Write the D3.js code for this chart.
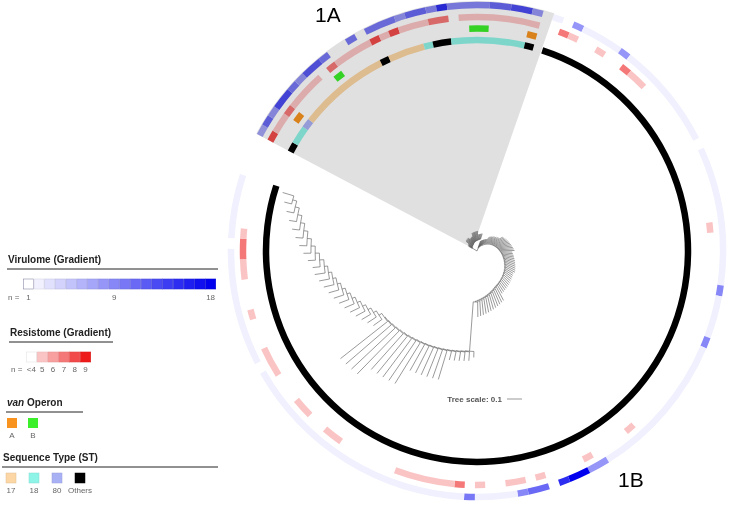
<!DOCTYPE html>
<html>
<head>
<meta charset="utf-8">
<script src="https://cdn.jsdelivr.net/npm/d3@7"></script>
<style>
  body { margin: 0; background: #fff; }
  svg { display: block; font-family: "Liberation Sans", Arial, sans-serif; }
</style>
</head>
<body>
<svg id="chart" width="729" height="507"></svg>
<script>
// leaves are numbered clockwise, leaf 0 = first leaf of clade 1A
const nLeaves = 140;
const clade1A = [0, 32];

// tree as ladders: [number of rungs, backbone step, leaf length]
const stem1A = 0.035;
const tree1A = [[5, 0.002, 0.03], [7, 0.001, 0.055], [6, 0.002, 0.04], [8, 0.0015, 0.06], [6, 0.002, 0.035]];
const stem1B = 0.02;
const tree1B = [
  [9, 0.004, 0.05], [8, 0.006, 0.07],
  [12, 0.005, 0.09], [12, 0.005, 0.07],
  [12, 0.004, 0.06], [12, 0.006, 0.1],
  [1, 0.33, 0.04],
  [5, 0.004, 0.06], [6, 0.004, 0.2], [5, 0.005, 0.32], [4, 0.005, 0.4],
  [12, 0.022, 0.07], [10, 0.028, 0.05]
];

// ring segments: [first leaf, last leaf + 1, value]
const stSegments = [
  [0, 1, 'Others'], [1, 3, '18'], [3, 4, '80'], [4, 14, '17'], [14, 15, 'Others'],
  [15, 19, '17'], [19, 20, '18'], [20, 22, 'Others'], [22, 30, '18'], [30, 31, 'Others'],
  [32, 140, 'Others']
];
const vanSegments = [[3, 4, 'A'], [9, 10, 'B'], [24, 26, 'B'], [30, 31, 'A']];
const resSegments = [
  [0, 1, 8], [1, 3, 5], [3, 4, 7], [4, 8, 5], [9, 10, 7], [10, 14, 5], [14, 15, 8],
  [15, 16, 5], [16, 17, 8], [17, 20, 5], [20, 22, 7], [23, 31, 5],
  [33, 34, 7], [34, 35, 5], [37, 38, 5], [40, 41, 7], [41, 43, 5], [58, 59, 5],
  [80, 81, 5], [85, 86, 5], [90, 91, 5], [92, 94, 5], [96, 97, 5], [98, 99, 7],
  [99, 105, 5], [111, 113, 5], [115, 117, 5], [120, 123, 5], [126, 127, 5],
  [130, 132, 5], [132, 134, 7], [134, 135, 5]
];
const virSegments = [
  [0, 1, 7], [1, 2, 11], [2, 3, 8], [3, 5, 13], [5, 6, 10], [6, 7, 8], [7, 9, 12],
  [9, 10, 10], [12, 13, 10], [14, 17, 10], [17, 18, 8], [18, 20, 11], [20, 21, 9],
  [21, 22, 15], [22, 26, 9], [26, 28, 11], [28, 30, 13], [30, 31, 8],
  [32, 33, 2], [34, 35, 8], [35, 39, 2], [39, 40, 8], [40, 50, 2], [51, 64, 2],
  [64, 65, 9], [65, 69, 2], [69, 70, 9], [70, 84, 2], [84, 86, 8], [86, 88, 18],
  [88, 89, 15], [90, 92, 11], [92, 93, 9], [93, 97, 2], [97, 98, 10], [98, 121, 2],
  [122, 133, 2], [134, 140, 2]
];

// legend keys
const virLevels = d3.range(1, 19);
const virTicks = [1, 9, 18];
const resLevels = ['<4', 5, 6, 7, 8, 9];
const resFills = ['#ffffff', '#fbc4c4', '#f8a0a0', '#f57878', '#f24a4a', '#ee1a1a'];
const vanTypes = ['A', 'B'];
const vanFills = ['#f7931e', '#3cef2b'];
const stTypes = ['17', '18', '80', 'Others'];
const stFills = ['#fcd6a4', '#8ff4e8', '#a9b1f5', '#000000'];

const cx = 477, cy = 251;
const ringR = { st: 211, van: 222.5, res: 234, vir: 246 };
const ringW = 6.5;

const svg = d3.select('#chart');
const toRad = d => d * Math.PI / 180;
const angle = d3.scaleLinear().domain([0, nLeaves]).range([toRad(298), toRad(648)]);
const rTree = d3.scaleLinear().domain([0, 0.1]).range([0, 15]);
const virColor = d3.scaleLinear().domain([1, 18]).range(['#ffffff', '#0000ee']);
const resColor = d3.scaleOrdinal().domain(resLevels).range(resFills);
const vanColor = d3.scaleOrdinal().domain(vanTypes).range(vanFills);
const stColor = d3.scaleOrdinal().domain(stTypes).range(stFills);
const pt = (r, a) => [r * Math.sin(a), -r * Math.cos(a)];

// build a ladder-shaped clade
function ladder(runs, stem) {
  const rungs = runs.flatMap(([n, step, leaf]) => d3.range(n).map(() => [step, leaf]));
  const last = rungs[rungs.length - 1];
  let node = { len: last[0] + last[1] };
  for (let k = rungs.length - 2; k >= 0; k--) {
    node = { len: k === 0 ? stem : rungs[k][0], children: [{ len: rungs[k][1] }, node] };
  }
  return node;
}

const root = d3.hierarchy({ len: 0, children: [ladder(tree1A, stem1A), ladder(tree1B, stem1B)] });
root.eachBefore(d => { d.dist = d.parent ? d.parent.dist + d.data.len : 0; });
root.leaves().forEach((d, i) => { d.a = angle(i + 0.5); });
root.eachAfter(d => {
  if (d.children) d.a = (d.children[0].a + d.children[d.children.length - 1].a) / 2;
});

const g = svg.append('g').attr('transform', `translate(${cx},${cy})`);

// highlighted clade 1A
const node1A = root.children[0];
const wedge = d3.path();
wedge.moveTo(...pt(rTree(node1A.dist), node1A.a));
wedge.lineTo(...pt(250, angle(clade1A[0])));
wedge.arc(0, 0, 250, angle(clade1A[0]) - Math.PI / 2, angle(clade1A[1]) - Math.PI / 2);
wedge.closePath();
g.append('path').attr('d', wedge.toString()).attr('fill', '#e0e0e0');

// rings
const rings = g.append('g').style('mix-blend-mode', 'multiply');
function drawRing(data, r, color) {
  const arc = d3.arc()
    .innerRadius(r - ringW / 2).outerRadius(r + ringW / 2)
    .startAngle(d => angle(d[0])).endAngle(d => angle(d[1]));
  rings.append('g').selectAll('path').data(data).join('path')
    .attr('d', arc).attr('fill', d => color(d[2]));
}
drawRing(stSegments, ringR.st, stColor);
drawRing(vanSegments, ringR.van, vanColor);
drawRing(resSegments, ringR.res, resColor);
drawRing(virSegments, ringR.vir, virColor);

// tree branches
const branches = d3.path();
root.each(d => {
  if (!d.children) return;
  const r = rTree(d.dist);
  const a0 = d.children[0].a, a1 = d.children[d.children.length - 1].a;
  branches.moveTo(...pt(r, a0));
  branches.arc(0, 0, r, a0 - Math.PI / 2, a1 - Math.PI / 2);
  d.children.forEach(c => {
    branches.moveTo(...pt(r, c.a));
    branches.lineTo(...pt(rTree(c.dist), c.a));
  });
});
g.append('path').attr('d', branches.toString())
  .attr('fill', 'none').attr('stroke', '#555').attr('stroke-width', 0.6);

// tree scale
svg.append('text').attr('x', 502).attr('y', 402).attr('text-anchor', 'end')
  .attr('font-size', 8).attr('font-weight', 'bold').attr('fill', '#555')
  .text('Tree scale: 0.1');
svg.append('line').attr('x1', 507).attr('x2', 507 + rTree(0.1))
  .attr('y1', 399).attr('y2', 399).attr('stroke', '#999');

// clade labels
svg.append('text').attr('x', 315).attr('y', 22).attr('font-size', 21).text('1A');
svg.append('text').attr('x', 618).attr('y', 487).attr('font-size', 21).text('1B');

// legend
function title(x, y, lineEnd, parts) {
  const t = svg.append('text').attr('x', x).attr('y', y)
    .attr('font-size', 10).attr('font-weight', 'bold').attr('fill', '#222');
  parts.forEach(([s, italic]) => t.append('tspan').attr('font-style', italic ? 'italic' : null).text(s));
  svg.append('line').attr('x1', x - 1).attr('x2', lineEnd)
    .attr('y1', y + 6).attr('y2', y + 6).attr('stroke', '#222').attr('stroke-width', 1);
}
function label(x, y, s, anchor) {
  svg.append('text').attr('x', x).attr('y', y).attr('text-anchor', anchor || 'middle')
    .attr('font-size', 8).attr('fill', '#666').text(s);
}

title(8, 263, 218, [['Virulome (Gradient)']]);
const virX = d3.scaleBand().domain(virLevels).range([23, 216]);
svg.append('g').selectAll('rect').data(virLevels).join('rect')
  .attr('x', d => virX(d) + 0.3).attr('y', 279)
  .attr('width', virX.bandwidth() - 0.6).attr('height', 10)
  .attr('fill', d => virColor(d))
  .attr('stroke', d => d === 1 ? '#8a8aa8' : d3.color(virColor(d)).darker(0.3))
  .attr('stroke-width', 0.6);
label(8, 300, 'n =', 'start');
virTicks.forEach(v => label(virX(v) + virX.bandwidth() / 2, 300, v));

title(10, 336, 113, [['Resistome (Gradient)']]);
const resX = d3.scaleBand().domain(resLevels).range([26, 91]);
svg.append('g').selectAll('rect').data(resLevels).join('rect')
  .attr('x', d => resX(d) + 0.3).attr('y', 352)
  .attr('width', resX.bandwidth() - 0.6).attr('height', 10)
  .attr('fill', d => resColor(d))
  .attr('stroke', d => d === '<4' ? '#e4e4e4' : d3.color(resColor(d)).darker(0.2))
  .attr('stroke-width', 0.6);
label(11, 372, 'n =', 'start');
resLevels.forEach(v => label(resX(v) + resX.bandwidth() / 2, 372, v));

title(7, 406, 83, [['van', true], [' Operon']]);
const vanX = d3.scalePoint().domain(vanTypes).range([7, 28]);
svg.append('g').selectAll('rect').data(vanTypes).join('rect')
  .attr('x', d => vanX(d)).attr('y', 418).attr('width', 10).attr('height', 10)
  .attr('fill', d => vanColor(d));
vanTypes.forEach(v => label(vanX(v) + 5, 438, v));

title(3, 461, 218, [['Sequence Type (ST)']]);
const stX = d3.scalePoint().domain(stTypes).range([6, 75]);
svg.append('g').selectAll('rect').data(stTypes).join('rect')
  .attr('x', d => stX(d)).attr('y', 473).attr('width', 10).attr('height', 10)
  .attr('fill', d => stColor(d))
  .attr('stroke', d => d3.color(stColor(d)).darker(0.3)).attr('stroke-width', 0.5);
stTypes.forEach(v => label(stX(v) + 5, 493, v));
</script>
</body>
</html>
